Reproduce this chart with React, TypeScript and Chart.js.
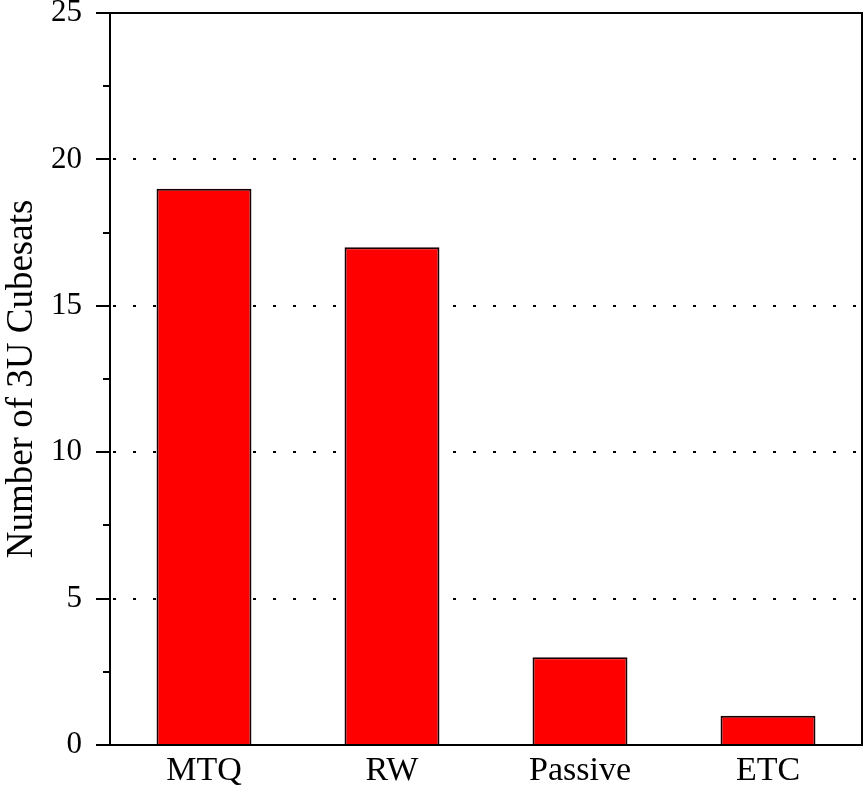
import React, { useEffect, useRef } from "react";
import { Chart, registerables } from "chart.js";

Chart.register(...registerables);

const categories = ["MTQ", "RW", "Passive", "ETC"];
const counts = [19, 17, 3, 1];
const yMin = 0;
const yMax = 25;
const majorStep = 5;
const minorStep = 2.5;
const yTitle = "Number of 3U Cubesats";

const FONT = "'Liberation Serif', 'Times New Roman', serif";

const framePlugin = {
  id: "frame",
  afterDraw(chart: any) {
    const { ctx, chartArea } = chart;
    const y = chart.scales.y;
    ctx.save();
    ctx.strokeStyle = "#000";
    ctx.lineWidth = 2;
    ctx.beginPath();
    ctx.moveTo(chartArea.left, chartArea.top);
    ctx.lineTo(chartArea.right, chartArea.top);
    ctx.lineTo(chartArea.right, chartArea.bottom);
    ctx.stroke();
    for (let v = yMin; v <= yMax + 1e-9; v += minorStep) {
      const py = Math.round(y.getPixelForValue(v));
      const major = Math.abs(v / majorStep - Math.round(v / majorStep)) < 1e-6;
      const len = major ? 14 : 7;
      ctx.beginPath();
      ctx.moveTo(chartArea.left - len, py);
      ctx.lineTo(chartArea.left, py);
      ctx.stroke();
    }
    ctx.restore();
  },
};

export default function App() {
  const ref = useRef<HTMLCanvasElement | null>(null);

  useEffect(() => {
    if (!ref.current) return;
    const chart = new Chart(ref.current, {
      type: "bar",
      data: {
        labels: categories,
        datasets: [
          {
            data: counts,
            backgroundColor: "#fe0000",
            borderColor: "#1a0000",
            borderWidth: 2,
            barPercentage: 0.505,
            categoryPercentage: 1,
          },
        ],
      },
      plugins: [framePlugin],
      options: {
        animation: false,
        responsive: true,
        maintainAspectRatio: false,
        layout: { padding: { top: 13, right: 3, left: 0, bottom: 0 } },
        plugins: {
          legend: { display: false },
          tooltip: { enabled: false },
        },
        scales: {
          x: {
            grid: { display: false, drawTicks: false },
            border: { display: true, color: "#000", width: 2 },
            ticks: {
              color: "#000",
              font: { family: FONT, size: 34 },
              padding: 6,
            },
            afterFit(scale: any) {
              scale.height = 45;
              scale.paddingLeft = 0;
              scale.paddingRight = 0;
            },
          },
          y: {
            min: yMin,
            max: yMax,
            grid: {
              drawTicks: false,
              color: (ctx: any) => {
                const v = ctx.tick ? ctx.tick.value : null;
                if (v === null) return "rgba(0,0,0,0)";
                if (v <= yMin || v >= yMax) return "rgba(0,0,0,0)";
                if (Math.abs(v % majorStep) > 1e-6) return "rgba(0,0,0,0)";
                return "#000";
              },
              lineWidth: 2,
            },
            border: { display: true, color: "#000", width: 2, dash: [3, 17], dashOffset: 18 },
            ticks: {
              stepSize: minorStep,
              color: "#000",
              font: { family: FONT, size: 31 },
              padding: 28,
              callback: (val: any) => {
                const n = Number(val);
                return Math.abs(n % majorStep) < 1e-6 ? String(n) : "";
              },
            },
            title: {
              display: true,
              text: yTitle,
              color: "#000",
              font: { family: FONT, size: 37 },
              padding: { top: 0, bottom: 0 },
            },
            afterFit(scale: any) {
              scale.width = 110;
              scale.paddingTop = 0;
              scale.paddingBottom = 0;
            },
          },
        },
      },
    });
    return () => chart.destroy();
  }, []);

  return (
    <div style={{ position: "fixed", left: 0, top: 0, width: 865, height: 790, background: "#fff" }}>
      <canvas ref={ref} />
    </div>
  );
}
